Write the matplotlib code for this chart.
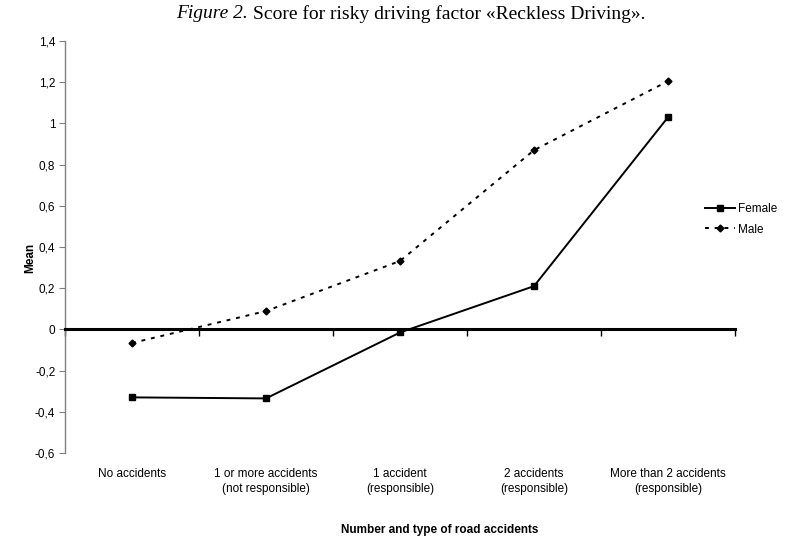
import matplotlib
matplotlib.use("Agg")
import matplotlib.pyplot as plt
import matplotlib.transforms as mtransforms
from matplotlib import font_manager

categories = ["No accidents", "1 or more accidents\n(not responsible)",
              "1 accident\n(responsible)", "2 accidents\n(responsible)",
              "More than 2 accidents\n(responsible)"]
female = [-0.33, -0.335, -0.015, 0.21, 1.03]
male = [-0.066, 0.089, 0.332, 0.87, 1.205]
yticks = [-0.6, -0.4, -0.2, 0, 0.2, 0.4, 0.6, 0.8, 1, 1.2, 1.4]
ytick_labels = ["-0,6", "-0,4", "-0,2", "0", "0,2", "0,4", "0,6", "0,8", "1", "1,2", "1,4"]

names = {f.name for f in font_manager.fontManager.ttflist}
sans = "Liberation Sans Narrow" if "Liberation Sans Narrow" in names else "Liberation Sans"

fig = plt.figure(figsize=(7.87, 5.38), dpi=100)
ax = fig.add_axes([65/787, 1-453/538, (735-65)/787, (453-41)/538])

x = list(range(1, len(categories) + 1))
ax.plot(x, female, color="black", lw=1.4, marker="s", ms=4.5, label="Female")
ax.plot(x, male, color="black", lw=1.4, ls=(0, (2, 3)), marker="D", ms=3.5, label="Male")

ax.set_xlim(0.5, len(categories) + 0.5)
ax.set_ylim(-0.6, 1.4)
ax.set_yticks(yticks)
ax.set_yticklabels(ytick_labels, fontfamily=sans, fontsize=8.5)
ax.tick_params(axis="y", direction="out", length=4, color="#808080", pad=3)

ax.spines["top"].set_visible(False)
ax.spines["right"].set_visible(False)
ax.spines["left"].set_color("#808080")
ax.spines["left"].set_linewidth(1.0)
ax.spines["bottom"].set_position(("data", 0))
ax.spines["bottom"].set_linewidth(2.2)
ax.spines["bottom"].set_color("black")
ax.set_xticks([i + 0.5 for i in range(0, len(categories) + 1)])
ax.set_xticklabels([])
ax.tick_params(axis="x", direction="out", length=5, width=1, color="black")

trans = mtransforms.blended_transform_factory(ax.transData, fig.transFigure)
for xi, lab in zip(x, categories):
    ax.text(xi, 1 - 468/538, lab, transform=trans, ha="center", va="top",
            fontfamily=sans, fontsize=8.5, linespacing=1.35)

fig.text(440/787, 1 - 530/538, "Number and type of road accidents", ha="center", va="center",
         fontfamily=sans, fontsize=8.5, fontweight="bold")
fig.text(30/787, 1 - 258/538, "Mean", ha="center", va="center", rotation=90,
         fontfamily=sans, fontsize=8.5, fontweight="bold")

# Title: italic part followed by regular part
t1 = fig.text(176/787, 1 - 14/538, "Figure 2.", ha="left", va="center",
              fontfamily="Liberation Serif", fontstyle="italic", fontsize=14)
renderer = fig.canvas.get_renderer()
bb = t1.get_window_extent(renderer=renderer)
fig.text(bb.x1 / fig.bbox.width + 5/787, 1 - 14/538,
         "Score for risky driving factor «Reckless Driving».",
         ha="left", va="center", fontfamily="Liberation Serif", fontsize=14)

ax.legend(loc="upper left", bbox_to_anchor=(700/787, 1 - 198/538),
          bbox_transform=fig.transFigure, frameon=False,
          prop={"family": sans, "size": 8.5}, handlelength=2.6,
          handletextpad=0.2, labelspacing=0.75, borderaxespad=0)

fig.savefig("out.png", dpi=100)
